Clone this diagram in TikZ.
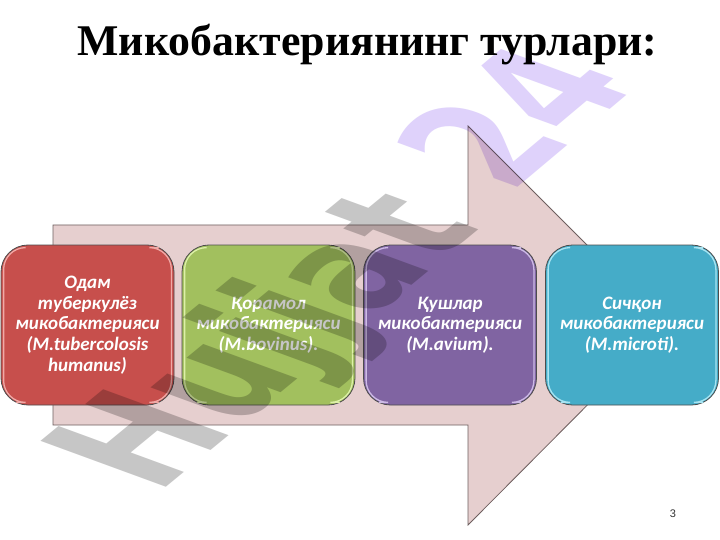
\documentclass[tikz,border=0pt]{standalone}
\usepackage{fontspec}
\setmainfont{Liberation Serif}
\newfontfamily\boxfont{Carlito}
\newfontfamily\wmfont{DejaVu Sans}
\newfontfamily\pagefont{Liberation Sans}
\definecolor{arrowfill}{HTML}{E6CFCF}
\definecolor{arrowline}{HTML}{6E5F5F}
\definecolor{redbox}{HTML}{C74F4C}
\definecolor{redlight}{HTML}{F0A9A6}
\definecolor{greenbox}{HTML}{A2C05E}
\definecolor{greenlight}{HTML}{DDF0A8}
\definecolor{purplebox}{HTML}{8064A2}
\definecolor{purplelight}{HTML}{CDBBE6}
\definecolor{bluebox}{HTML}{45ACC8}
\definecolor{bluelight}{HTML}{A8E4F2}
\definecolor{wmgrey}{HTML}{C6C6C6}
\definecolor{wmlilac}{HTML}{DFD2FB}
\tikzset{
  cardbox/.style={draw=black!70!white, line width=0.8pt, rounded corners=27pt, minimum width=173pt, minimum height=160pt, inner sep=0pt, align=center, text=white, font=\boxfont\fontsize{19}{20.7}\selectfont\bfseries\itshape},
  gloss/.style={line width=1.3pt, line cap=round, rounded corners=22pt},
  watermark/.style={font=\wmfont\fontsize{100}{100}\selectfont\bfseries, inner sep=0pt, anchor=base west}
}
\newcommand{\card}[5]{%
  \node[cardbox, fill=#3] (#1) at (#2,325) {#5};
  \draw[gloss, #4] ([shift={(24,3)}]#1.north west) -- ([shift={(3,3)}]#1.north west) -- ([shift={(3,-3)}]#1.south west) -- ([shift={(16,-3)}]#1.south west);
  \draw[gloss, #4] ([shift={(-16,3)}]#1.north east) -- ([shift={(-3,3)}]#1.north east) -- ([shift={(-3,-3)}]#1.south east) -- ([shift={(-16,-3)}]#1.south east);
}
\begin{document}
\begin{tikzpicture}[x=1pt,y=-1pt]
\useasboundingbox (0,0) rectangle (720,540);
\fill[white] (0,0) rectangle (720,540);
\coordinate (a1) at (53,225);
\coordinate (a2) at (468,225);
\coordinate (a3) at (468,126);
\coordinate (a4) at (667,325);
\coordinate (a5) at (468,525);
\coordinate (a6) at (468,425);
\coordinate (a7) at (53,425);
\draw[draw=arrowline, fill=arrowfill, line width=0.8pt] (a1) -- (a2) -- (a3) -- (a4) -- (a5) -- (a6) -- (a7) -- cycle;
\card{red}{87.5}{redbox}{redlight}{Одам\\туберкулёз\\микобактерияси\\(M.tubercolosis\\humanus)}
\card{green}{268.5}{greenbox}{greenlight}{Қорамол\\микобактерияси\\(M.bovinus).}
\card{purple}{450}{purplebox}{purplelight}{Қушлар\\микобактерияси\\(M.avium).}
\card{blue}{632}{bluebox}{bluelight}{Сичқон\\микобактерияси\\(M.microti).}
\node[font=\fontsize{43.8}{43.8}\selectfont\bfseries, inner sep=0pt] (title) at (367.5,44.5) {Микобактериянинг турлари:};
\node[font=\pagefont\fontsize{11}{11}\selectfont, text=black!80, inner sep=0pt] (pagenum) at (673,514) {3};
\begin{scope}[blend mode=multiply]
\node[watermark, text=wmgrey, transform shape, cm={0.96,0.79,-1.72,0.63,(157pt,-495pt)}] (wm1) at (0,0) {Hujjat};
\node[watermark, text=wmlilac, transform shape, cm={0.94,0.79,-1.72,0.63,(510pt,-194pt)}] (wm2) at (0,0) {24};
\end{scope}
\end{tikzpicture}
\end{document}
